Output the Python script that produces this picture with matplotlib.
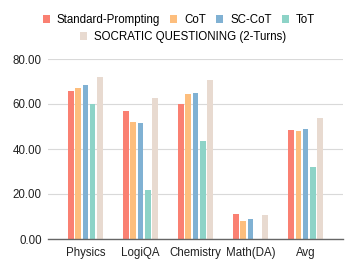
import numpy as np
import matplotlib
matplotlib.use("Agg")
import matplotlib.pyplot as plt
from matplotlib.patches import Patch
from matplotlib.ticker import FormatStrFormatter

plt.rcParams["font.family"] = ["Liberation Sans", "DejaVu Sans"]

categories = ["Physics", "LogiQA", "Chemistry", "Math(DA)", "Avg"]
methods = ["Standard-Prompting", "CoT", "SC-CoT", "ToT", "SOCRATIC QUESTIONING (2-Turns)"]
standard = [65.9, 56.7, 60.1, 11.1, 48.4]
cot = [67.2, 52.2, 64.4, 8.1, 48.1]
sc_cot = [68.6, 51.6, 65.0, 8.9, 48.7]
tot = [60.2, 21.9, 43.5, 0.0, 31.8]
socratic = [72.0, 62.8, 70.5, 10.5, 53.9]
colors = ["#fa8072", "#fdbe7d", "#80b1d3", "#8dd3c7", "#e8dad0"]

series = [standard, cot, sc_cot, tot, socratic]

fig = plt.figure(figsize=(3.57, 2.72), dpi=100)
ax = fig.add_axes([48 / 357, 1 - 239 / 272, 295 / 357, 180 / 272])

x = np.arange(len(categories))
pitch = 0.131
width = 0.104
for i, (vals, c) in enumerate(zip(series, colors)):
    ax.bar(x + (i - 2) * pitch, vals, width=width, color=c, zorder=3)

fs = 8.3
ax.set_xlim(-0.68, 4.68)
ax.set_ylim(0, 80)
ax.set_yticks([0, 20, 40, 60, 80])
ax.yaxis.set_major_formatter(FormatStrFormatter("%.2f"))
ax.set_xticks(x)
ax.set_xticklabels(categories)
ax.tick_params(axis="both", length=0, labelsize=fs, colors="#222222")
ax.tick_params(axis="x", pad=6)
ax.tick_params(axis="y", pad=4.5)
ax.grid(axis="y", color="#d9d9d9", linewidth=0.8, zorder=0)
for s in ["top", "right", "left"]:
    ax.spines[s].set_visible(False)
ax.spines["bottom"].set_color("#666666")
ax.spines["bottom"].set_linewidth(1.0)
ax.spines["bottom"].set_zorder(4)

handles = [Patch(facecolor=c, edgecolor="none") for c in colors]
fig.legend(handles[:4], methods[:4], loc="center", bbox_to_anchor=(179 / 357, 1 - 20 / 272),
           ncol=4, frameon=False, fontsize=fs, handlelength=0.6, handleheight=0.6,
           handletextpad=0.6, columnspacing=0.9, borderpad=0)
fig.legend(handles[4:], methods[4:], loc="center", bbox_to_anchor=(183 / 357, 1 - 37 / 272),
           ncol=1, frameon=False, fontsize=fs, handlelength=0.6, handleheight=0.6,
           handletextpad=0.6, borderpad=0)

fig.savefig("out.png", dpi=100)
